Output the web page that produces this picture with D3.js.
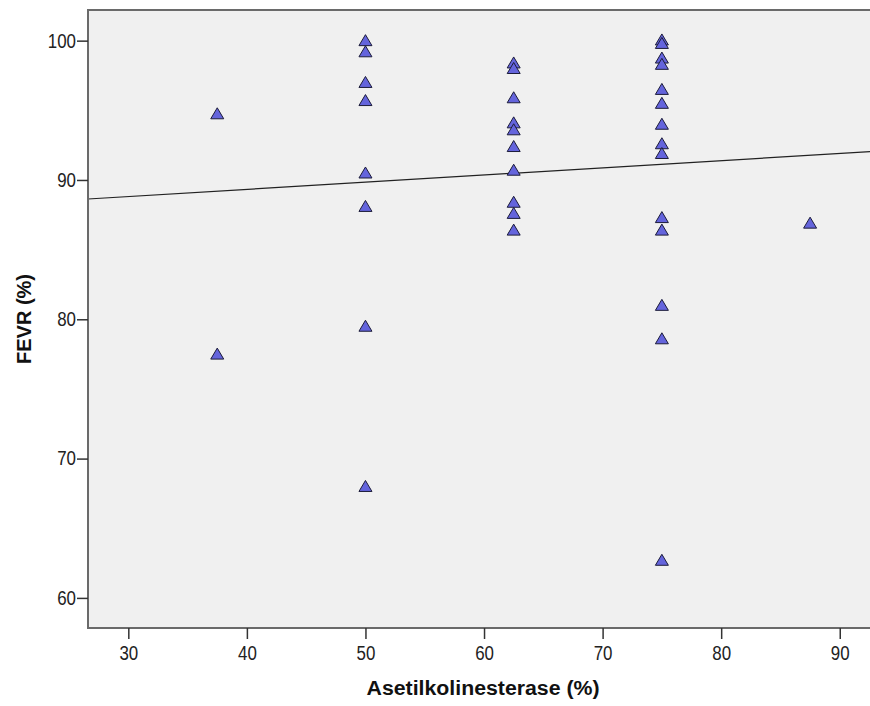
<!DOCTYPE html>
<html>
<head>
<meta charset="utf-8">
<script src="https://cdn.jsdelivr.net/npm/d3@7"></script>
<style>
  body { margin: 0; background: #fff; }
  svg { display: block; }
  .tick text { font-family: "Liberation Sans", Arial, sans-serif; font-size: 20px; fill: #222; }
  .title { font-family: "Liberation Sans", Arial, sans-serif; font-size: 20px; font-weight: bold; fill: #111; }
</style>
</head>
<body>
<div id="chart"></div>
<script>
// Asetilkolinesterase (%) vs FEVR (%), one entry per subject
const ache = [
    37.5, 37.5,
    50, 50, 50, 50, 50, 50, 50, 50,
    62.5, 62.5, 62.5, 62.5, 62.5, 62.5, 62.5, 62.5, 62.5, 62.5,
    75, 75, 75, 75, 75, 75, 75, 75, 75, 75, 75, 75, 75, 75,
    87.5
];
const fevr = [
    94.75, 77.5,
    100.0, 99.2, 97.0, 95.7, 90.5, 88.1, 79.5, 68.0,
    98.4, 98.0, 95.9, 94.1, 93.6, 92.4, 90.7, 88.4, 87.6, 86.4,
    100.05, 99.8, 98.75, 98.3, 96.5, 95.5, 94.0, 92.6, 91.9, 87.3, 86.4, 81.0, 78.6, 62.7,
    86.9
];

// fit line as shown in the chart
const fitIntercept = 87.26;
const fitSlope = 0.0516;

const xTicks = [30, 40, 50, 60, 70, 80, 90];
const yTicks = [60, 70, 80, 90, 100];
const xDomain = [26.6, 92.72];
const yDomain = [57.84, 102.2];

const width = 870;
const height = 706;
const plotLeft = 88, plotTop = 10, plotBottom = 628, plotRight = 872;

const svg = d3.select('#chart')
    .append('svg')
    .attr('width', width)
    .attr('height', height);

const x = d3.scaleLinear().domain(xDomain).range([plotLeft, plotRight]);
const y = d3.scaleLinear().domain(yDomain).range([plotBottom, plotTop]);

svg.append('rect')
    .attr('x', plotLeft)
    .attr('y', plotTop)
    .attr('width', plotRight - plotLeft)
    .attr('height', plotBottom - plotTop)
    .attr('fill', '#f0f0f0');

// fit line
svg.append('line')
    .attr('x1', x(xDomain[0]))
    .attr('y1', y(fitIntercept + fitSlope * xDomain[0]))
    .attr('x2', x(xDomain[1]))
    .attr('y2', y(fitIntercept + fitSlope * xDomain[1]))
    .attr('stroke', '#222')
    .attr('stroke-width', 1.2);

// points
const tri = 'M0,-6L6.5,5L-6.5,5Z';
svg.append('g')
    .selectAll('path')
    .data(ache.map((a, i) => ({ a: a, f: fevr[i] })))
    .enter()
    .append('path')
    .attr('d', tri)
    .attr('transform', d => `translate(${x(d.a)},${y(d.f)})`)
    .attr('fill', '#6464dc')
    .attr('stroke', '#1c1c3a')
    .attr('stroke-width', 1)
    .attr('stroke-linejoin', 'round');

// frame
svg.append('path')
    .attr('d', `M${plotRight},${plotTop}H${plotLeft}V${plotBottom}H${plotRight}`)
    .attr('fill', 'none')
    .attr('stroke', '#6a6a6a')
    .attr('stroke-width', 2);

const xAxis = svg.append('g')
    .attr('transform', `translate(0,${plotBottom})`)
    .call(d3.axisBottom(x).tickValues(xTicks).tickSize(11).tickPadding(7));
const yAxis = svg.append('g')
    .attr('transform', `translate(${plotLeft},0)`)
    .call(d3.axisLeft(y).tickValues(yTicks).tickSize(11).tickPadding(1));

[xAxis, yAxis].forEach(g => {
    g.select('.domain').remove();
    g.selectAll('.tick line').attr('stroke', '#333').attr('stroke-width', 1.5);
    // narrow tick digits like the original
    g.selectAll('.tick text')
        .attr('textLength', d => String(d).length * 9.4)
        .attr('lengthAdjust', 'spacingAndGlyphs');
});

svg.append('text')
    .attr('class', 'title')
    .attr('x', (x(30) + x(90)) / 2 - 1)
    .attr('y', 695)
    .attr('text-anchor', 'middle')
    .attr('textLength', 233)
    .attr('lengthAdjust', 'spacingAndGlyphs')
    .text('Asetilkolinesterase (%)');

svg.append('text')
    .attr('class', 'title')
    .attr('transform', `translate(31,${(plotTop + plotBottom) / 2}) rotate(-90)`)
    .attr('text-anchor', 'middle')
    .attr('textLength', 90)
    .attr('lengthAdjust', 'spacingAndGlyphs')
    .text('FEVR (%)');
</script>
</body>
</html>
